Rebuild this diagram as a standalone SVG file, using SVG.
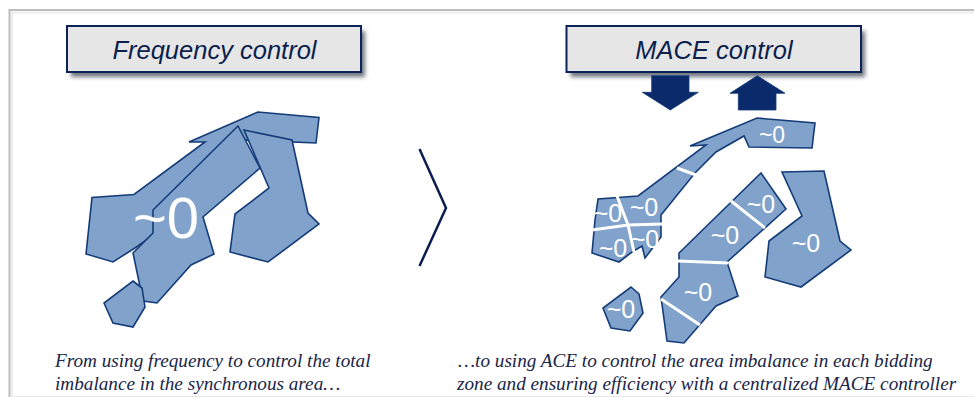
<svg xmlns="http://www.w3.org/2000/svg" width="974" height="397" viewBox="0 0 974 397">
<defs>
<style>
.map{fill:#80a2cb;stroke:#143c78;stroke-width:1.6;stroke-linejoin:miter}
.cut{stroke:#fff;stroke-width:3;fill:none}
.z{font-family:"Liberation Sans",Arial,sans-serif;fill:#fff;font-size:25px;text-anchor:middle}
.hd{fill:#e6e6e6;stroke:#0b2359;stroke-width:2}
.ht{font-family:"Liberation Sans",Arial,sans-serif;font-style:italic;font-size:25.5px;fill:#0d1f4d;text-anchor:middle}
.cap{font-family:"Liberation Serif","Times New Roman",serif;font-style:italic;font-size:19.2px;fill:#1a2548}
.arr{fill:#0a2a6b;stroke:#123a78;stroke-width:.8}
</style>
<filter id="sh" x="-5%" y="-20%" width="112%" height="145%"><feGaussianBlur stdDeviation="2"/></filter>
</defs>
<rect width="974" height="397" fill="#fff"/>
<g id="frame" fill="none">
<path d="M974 10H9.500V397" stroke="#bdbdbd" stroke-width="2"/>
<path d="M974 12.500H12V397" stroke="#ededed" stroke-width="2"/>
<path d="M12 396.500H974" stroke="#e8e8e8" stroke-width="1"/>
</g>
<g id="frequency-header">
<rect x="71" y="31" width="294" height="46" fill="#70757f" filter="url(#sh)"/>
<rect class="hd" x="67" y="26" width="294" height="46"/>
<text class="ht" x="214.500" y="59">Frequency control</text>
</g>
<g id="mace-header">
<rect x="570.500" y="31" width="294.500" height="46" fill="#70757f" filter="url(#sh)"/>
<rect class="hd" x="566.500" y="26" width="294.500" height="46"/>
<text class="ht" x="714" y="59">MACE control</text>
</g>
<g id="left-map">
<polygon class="map" points="189,142 258,112 319,117.500 316,143 245,140 220,190 160,230 138,246 113,262 86,254 92,197.500 134,194.500 205,142"/>
<polygon class="map" points="244,130 292,140 308,213 319,224 268,262 230,252 235,214 269,188"/>
<polygon class="map" points="238,126 260,168 203,217 214,254 191,265 157,303 143,301 133,253 153,233 153,210"/>
<polygon class="map" points="133,281 142,288 145,307 133,327 113,323 104,303"/>
<text class="z" x="166" y="238" style="font-size:58px">~0</text>
</g>
<g id="chevron"><path d="M419.500 149L446 208L419.500 266" fill="none" stroke="#0b1f4f" stroke-width="2.500"/></g>
<g id="connectors">
<polygon class="arr" points="651.700,75.700 689,75.700 689,92.300 698.300,92.300 670.300,110 642.300,92.300 651.700,92.300"/>
<polygon class="arr" points="757.300,75.700 785,93.300 776,93.300 776,110 738.300,110 738.300,93.300 730,93.300"/>
</g>
<g id="norway-zones">
<polygon class="map" points="690,146 757,118 815,123 812,148 749,147 744,136 716,152 695,173 661,215 661,237 645,258 642,246 632,252 619,262 592,253 595,220 598,199 638,196 706,145"/>
<path class="cut" d="M677 168L696 175M617 196L628 225L634 252M592 230L628 225L663 224"/>
<text class="z" x="772" y="143" style="font-size:23px">~0</text>
<text class="z" x="644" y="216">~0</text>
<text class="z" x="608" y="222">~0</text>
<text class="z" x="613" y="257">~0</text>
<text class="z" x="645" y="248">~0</text>
</g>
<g id="sweden-zones">
<polygon class="map" points="761,173 786,209 727,262 738,296 716,306 684,343 667,341 661,297 679,277 679,253"/>
<path class="cut" d="M731 201L765 228M678 261L728 263M661 299L700 325"/>
<text class="z" x="761" y="213">~0</text>
<text class="z" x="725" y="244">~0</text>
<text class="z" x="698" y="301">~0</text>
</g>
<g id="finland-zone">
<polygon class="map" points="782,172 824,171 840,241 851,250 801,287 765,277 769,241 802,216"/>
<text class="z" x="806" y="252">~0</text>
</g>
<g id="denmark-zone">
<polygon class="map" points="631,287 639,294 643,313 630,331 611,328 603,308"/>
<text class="z" x="621" y="318">~0</text>
</g>
<g id="captions">
<text class="cap" x="55" y="367">From using frequency to control the total</text>
<text class="cap" x="55" y="390">imbalance in the synchronous area…</text>
<text class="cap" x="458" y="367">…to using ACE to control the area imbalance in each bidding</text>
<text class="cap" x="457" y="390">zone and ensuring efficiency with a centralized MACE controller</text>
</g>
</svg>
